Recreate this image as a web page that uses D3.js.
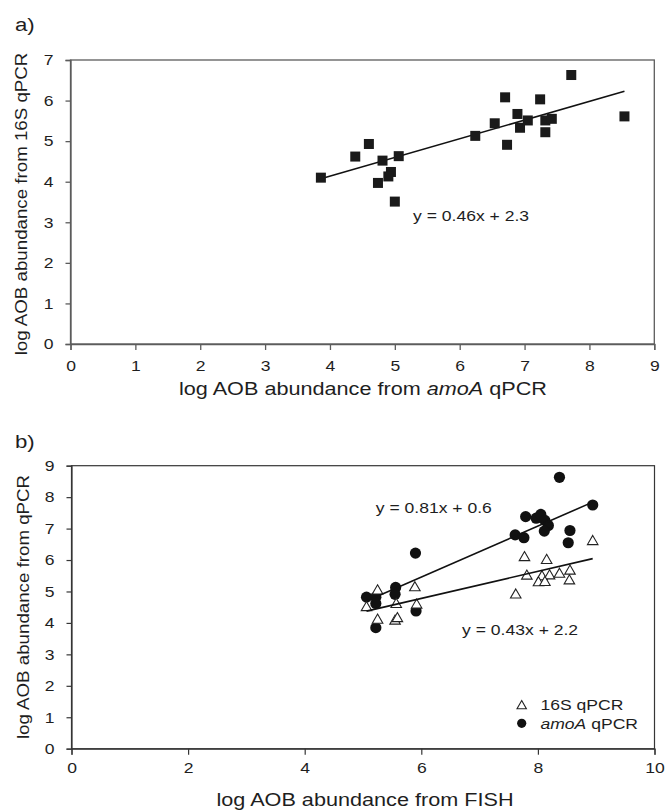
<!DOCTYPE html>
<html>
<head>
<meta charset="utf-8">
<script src="https://cdn.jsdelivr.net/npm/d3@7"></script>
<style>
  html, body { margin: 0; padding: 0; background: #fff; }
  svg { display: block; font-family: "Liberation Sans", Arial, sans-serif; }
</style>
</head>
<body>
<svg id="chart" width="666" height="811"></svg>
<script>
// ---------------- DATA ----------------
// Panel a: log AOB abundance from amoA qPCR (x) vs 16S qPCR (y)
const aX = [3.86, 4.39, 4.60, 4.81, 5.06, 4.94, 4.90, 4.74, 5.00, 6.24, 6.54,
            6.70, 6.73, 6.89, 6.93, 7.05, 7.24, 7.32, 7.32, 7.42, 7.72, 8.54];
const aY = [4.10, 4.62, 4.93, 4.52, 4.63, 4.24, 4.13, 3.97, 3.51, 5.13, 5.44,
            6.08, 4.91, 5.67, 5.33, 5.51, 6.03, 5.51, 5.22, 5.55, 6.63, 5.61];
const aFitSlope = 0.46, aFitIntercept = 2.3;
const aEquation = "y = 0.46x + 2.3";
const aXTicks = [0, 1, 2, 3, 4, 5, 6, 7, 8, 9];
const aYTicks = [0, 1, 2, 3, 4, 5, 6, 7];

// Panel b: log AOB abundance from FISH (x) vs qPCR (y)
const bAmoX = [5.06, 5.22, 5.22, 5.56, 5.55, 5.91, 5.22, 5.90,
               7.79, 7.97, 8.05, 8.12, 8.18, 8.11, 7.61, 7.76, 8.55, 8.52, 8.94, 8.37];
const bAmoY = [4.82, 4.82, 4.62, 5.13, 4.91, 4.38, 3.85, 6.22,
               7.38, 7.33, 7.45, 7.26, 7.10, 6.92, 6.80, 6.71, 6.94, 6.55, 7.75, 8.63];
const b16X = [5.25, 5.06, 5.57, 5.89, 5.92, 5.25, 5.55, 5.59,
              8.94, 7.77, 8.15, 7.81, 8.07, 8.20, 8.37, 8.55, 8.01, 8.12, 8.54, 7.62];
const b16Y = [5.05, 4.52, 4.62, 5.15, 4.60, 4.12, 4.09, 4.17,
              6.62, 6.11, 6.02, 5.52, 5.50, 5.53, 5.58, 5.68, 5.31, 5.32, 5.37, 4.92];
const bFitSlopes = [0.81, 0.43];        // amoA, 16S
const bFitIntercepts = [0.6, 2.2];
const bEquations = ["y = 0.81x + 0.6", "y = 0.43x + 2.2"];
const bXTicks = [0, 2, 4, 6, 8, 10];
const bYTicks = [0, 1, 2, 3, 4, 5, 6, 7, 8, 9];
const legendLabels = ["16S", "amoA"];

// ---------------- DRAW ----------------
const svg = d3.select("#chart");
const K = 1.17;           // horizontal glyph stretch of the reference typeface
const TXT = "#1e1e1e";

function stretchLen(sel) {
  sel.each(function () {
    const w = this.getComputedTextLength();
    this.setAttribute("textLength", (w * K).toFixed(2));
    this.setAttribute("lengthAdjust", "spacingAndGlyphs");
  });
}

function drawFrame(g, x, y, color, sw) {
  const [x0, x1] = x.range(), [y0, y1] = y.range();
  g.append("rect")
    .attr("x", x0).attr("y", y1)
    .attr("width", x1 - x0).attr("height", y0 - y1)
    .attr("fill", "none").attr("stroke", color).attr("stroke-width", sw);
}

function drawAxes(g, x, y, xt, yt, color, sw, xPad, yPad) {
  const [y0] = y.range(), [x0] = x.range();
  const gx = g.append("g").attr("transform", `translate(0,${y0})`)
    .call(d3.axisBottom(x).tickValues(xt).tickSize(6).tickPadding(xPad).tickFormat(d3.format("d")));
  const gy = g.append("g").attr("transform", `translate(${x0},0)`)
    .call(d3.axisLeft(y).tickValues(yt).tickSize(5).tickPadding(yPad).tickFormat(d3.format("d")));
  [gx, gy].forEach(a => {
    a.select(".domain").attr("stroke", color).attr("stroke-width", sw);
    a.selectAll(".tick line").attr("stroke", color).attr("stroke-width", sw);
    a.selectAll(".tick text")
      .attr("fill", TXT)
      .style("font-family", '"Liberation Sans", Arial, sans-serif')
      .style("font-size", "15px")
      .call(stretchLen);
  });
}

function stretchedText(g, x, y, str, size, anchor, rotate) {
  const t = g.append("text")
    .attr("transform", `translate(${x},${y})` + (rotate ? ` rotate(${rotate})` : "") + ` scale(${K},1)`)
    .attr("text-anchor", anchor)
    .attr("fill", TXT)
    .style("font-size", size + "px");
  return t;
}

// ===== Panel a =====
const ax = d3.scaleLinear().domain([0, 9]).range([70.5, 654.3]);
const ay = d3.scaleLinear().domain([0, 7]).range([344, 60]);
const ga = svg.append("g");
const colA = "#5c5c5c";
drawFrame(ga, ax, ay, colA, 1.3);
drawAxes(ga, ax, ay, aXTicks, aYTicks, colA, 1.3, 10, 12);

// regression line
const aMin = d3.min(aX), aMax = d3.max(aX);
ga.append("line")
  .attr("x1", ax(aMin)).attr("y1", ay(aFitSlope * aMin + aFitIntercept))
  .attr("x2", ax(aMax)).attr("y2", ay(aFitSlope * aMax + aFitIntercept))
  .attr("stroke", "#111").attr("stroke-width", 1.6);

// squares
const sq = 10;
ga.append("g").selectAll("rect").data(aX.map((d, i) => [d, aY[i]])).join("rect")
  .attr("x", d => ax(d[0]) - sq / 2).attr("y", d => ay(d[1]) - sq / 2)
  .attr("width", sq).attr("height", sq).attr("fill", "#1a1a1a");

stretchedText(ga, ax(5.28), ay(3.03), aEquation, 15, "start").text(aEquation);

// titles
stretchedText(ga, 15, 31, "", 19, "start").text("a)");
{
  const t = stretchedText(ga, 363, 395, "", 18.5, "middle");
  t.append("tspan").text("log AOB abundance from ");
  t.append("tspan").style("font-style", "italic").text("amoA");
  t.append("tspan").text(" qPCR");
}
stretchedText(ga, 27, 204, "", 16, "middle", -90).text("log AOB abundance from 16S qPCR");

// ===== Panel b =====
const bx = d3.scaleLinear().domain([0, 10]).range([71.5, 654.5]);
const by = d3.scaleLinear().domain([0, 9]).range([748.7, 465.7]);
const gb = svg.append("g");
const colB = "#363636";
drawFrame(gb, bx, by, colB, 1.2);
drawAxes(gb, bx, by, bXTicks, bYTicks, colB, 1.2, 8, 12);

// circles (amoA)
gb.append("g").selectAll("circle").data(bAmoX.map((d, i) => [d, bAmoY[i]])).join("circle")
  .attr("cx", d => bx(d[0])).attr("cy", d => by(d[1])).attr("r", 5.6)
  .attr("fill", "#111");

// triangles (16S)
const tri = d3.symbol().type(d3.symbolTriangle).size(48);
gb.append("g").selectAll("path").data(b16X.map((d, i) => [d, b16Y[i]])).join("path")
  .attr("d", tri)
  .attr("transform", d => `translate(${bx(d[0])},${by(d[1]) + 1})`)
  .attr("fill", "#fff").attr("stroke", "#222").attr("stroke-width", 1.1);

// regression lines
const fitRanges = [d3.extent(bAmoX), d3.extent(b16X)];
bFitSlopes.forEach((s, i) => {
  const [lo, hi] = fitRanges[i];
  gb.append("line")
    .attr("x1", bx(lo)).attr("y1", by(s * lo + bFitIntercepts[i]))
    .attr("x2", bx(hi)).attr("y2", by(s * hi + bFitIntercepts[i]))
    .attr("stroke", "#111").attr("stroke-width", 1.6);
});

stretchedText(gb, bx(5.22), by(7.48), "", 15, "start").text(bEquations[0]);
stretchedText(gb, bx(6.70), by(3.62), "", 15, "start").text(bEquations[1]);

// legend
const legX = 521.7, legY = [705, 723.3];
gb.append("path").attr("d", d3.symbol().type(d3.symbolTriangle).size(38))
  .attr("transform", `translate(${legX},${legY[0] + 1})`)
  .attr("fill", "#fff").attr("stroke", "#222").attr("stroke-width", 1.1);
gb.append("circle").attr("cx", legX).attr("cy", legY[1]).attr("r", 4.6).attr("fill", "#111");
{
  const t1 = stretchedText(gb, 540.5, legY[0] + 5.3, "", 15, "start");
  t1.append("tspan").text(legendLabels[0]);
  t1.append("tspan").text(" qPCR");
  const t2 = stretchedText(gb, 540.5, legY[1] + 5.3, "", 15, "start");
  t2.append("tspan").style("font-style", "italic").text(legendLabels[1]);
  t2.append("tspan").text(" qPCR");
}

// titles
stretchedText(gb, 15, 448, "", 19, "start").text("b)");
stretchedText(gb, 365, 806, "", 18.5, "middle").text("log AOB abundance from FISH");
stretchedText(gb, 29, 607, "", 16, "middle", -90).text("log AOB abundance from qPCR");
</script>
</body>
</html>
